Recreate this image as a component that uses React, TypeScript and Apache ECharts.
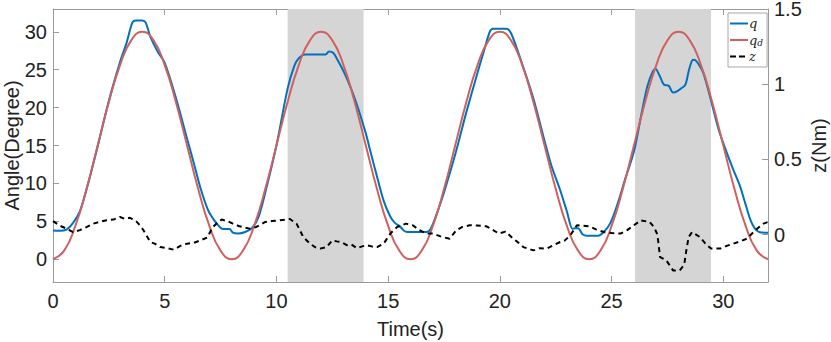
import React, { useEffect, useRef } from "react";
import * as echarts from "echarts";

// time ticks / axes
const xTicks = [0, 5, 10, 15, 20, 25, 30];
const angleTicks = [0, 5, 10, 15, 20, 25, 30];
const torqueTicks = [0, 0.5, 1, 1.5];

// shaded intervals (s)
const shaded: [number, number][] = [
  [10.5, 13.9],
  [26.05, 29.45],
];

// measured angle q (t, degree)
const qData: [number, number][] = [
  [0, 3.8], [0.3, 3.75], [0.6, 3.9], [0.9, 4.8], [1.2, 6.3], [1.5, 9.2], [2.0, 14.9], [2.5, 20.9],
  [3.0, 26.0], [3.3, 28.6], [3.55, 31.2], [3.7, 31.5], [4.0, 31.5], [4.15, 31.2], [4.35, 29.4],
  [4.7, 27.3], [5.0, 25.9], [5.5, 21.3], [6.0, 15.9], [6.3, 12.7], [6.6, 9.4], [6.95, 6.4],
  [7.2, 5.2], [7.45, 4.3], [7.6, 4.0], [7.9, 4.0], [8.05, 3.5], [8.3, 3.4], [8.6, 3.6], [8.9, 4.1],
  [9.2, 5.6], [9.5, 8.8], [10.0, 15.0], [10.5, 22.5], [10.8, 25.5], [11.0, 26.5], [11.3, 27.0],
  [12.2, 27.0], [12.35, 27.4], [12.55, 27.2], [12.75, 26.2], [13.0, 24.8], [13.3, 22.8],
  [13.6, 20.4], [14.0, 16.6], [14.2, 14.3], [14.5, 10.9], [14.8, 7.7], [15.1, 5.6], [15.3, 4.8],
  [15.5, 4.4], [15.7, 3.8], [15.85, 3.6], [16.7, 3.6], [16.9, 4.0], [17.2, 6.2], [17.5, 8.8],
  [18.0, 13.8], [18.5, 19.4], [19.0, 24.6], [19.3, 27.6], [19.55, 30.0], [19.7, 30.4],
  [20.3, 30.4], [20.5, 29.8], [20.9, 26.6], [21.5, 21.2], [22.0, 15.6], [22.3, 12.4],
  [22.7, 9.1], [23.0, 6.3], [23.25, 4.0], [23.35, 4.1], [23.5, 4.1], [23.7, 3.3], [23.9, 3.1],
  [24.4, 3.1], [24.65, 3.6], [24.95, 4.8], [25.3, 7.6], [25.6, 10.5], [26.0, 14.2], [26.3, 18.6],
  [26.6, 22.8], [26.85, 24.8], [26.97, 25.1], [27.15, 24.2], [27.35, 23.0], [27.55, 22.9],
  [27.75, 22.0], [27.9, 22.1], [28.1, 22.5], [28.3, 23.0], [28.45, 24.8], [28.6, 26.2],
  [28.7, 26.3], [28.9, 25.7], [29.1, 24.6], [29.4, 21.5], [29.8, 17.0], [30.15, 14.1],
  [30.45, 11.8], [30.75, 9.6], [31.0, 7.2], [31.2, 5.3], [31.4, 4.1], [31.6, 3.6], [32.0, 3.5],
];

// desired angle q_d, sampled every 0.5 s
const qdStep = 0.5;
const qdValues = [
  0, 1.14, 4.39, 9.26, 15, 20.74, 25.61, 28.86, 30, 28.86, 25.61, 20.74, 15, 9.26, 4.39, 1.14,
  0, 1.14, 4.39, 9.26, 15, 20.74, 25.61, 28.86, 30, 28.86, 25.61, 20.74, 15, 9.26, 4.39, 1.14,
  0, 1.14, 4.39, 9.26, 15, 20.74, 25.61, 28.86, 30, 28.86, 25.61, 20.74, 15, 9.26, 4.39, 1.14,
  0, 1.14, 4.39, 9.26, 15, 20.74, 25.61, 28.86, 30, 28.86, 25.61, 20.74, 15, 9.26, 4.39, 1.14,
  0,
];

// torque z (t, Nm)
const zData: [number, number][] = [
  [0, 0.09], [0.3, 0.06], [0.6, 0.04], [0.9, 0.017], [1.2, 0.03], [1.5, 0.05], [1.8, 0.073],
  [2.1, 0.085], [2.4, 0.095], [2.7, 0.1], [3.0, 0.117], [3.2, 0.105], [3.45, 0.112], [3.6, 0.098],
  [3.75, 0.085], [3.9, 0.06], [4.05, 0.029], [4.2, -0.01], [4.35, -0.049], [4.55, -0.06],
  [4.8, -0.083], [5.1, -0.09], [5.4, -0.1], [5.7, -0.075], [6.0, -0.06], [6.3, -0.055],
  [6.6, -0.038], [6.9, -0.02], [7.15, 0.05], [7.4, 0.085], [7.55, 0.1], [7.8, 0.09], [8.05, 0.073],
  [8.35, 0.055], [8.8, 0.04], [9.1, 0.051], [9.5, 0.084], [9.8, 0.09], [10.15, 0.095], [10.4, 0.1],
  [10.6, 0.104], [10.9, 0.073], [11.2, -0.016], [11.5, -0.06], [11.75, -0.085], [11.95, -0.093],
  [12.25, -0.083], [12.5, -0.038], [12.7, -0.045], [12.9, -0.05], [13.15, -0.07], [13.35, -0.065],
  [13.6, -0.09], [13.8, -0.08], [14.05, -0.07], [14.3, -0.08], [14.5, -0.083], [14.8, -0.06],
  [15.1, 0.007], [15.4, 0.051], [15.8, 0.073], [16.1, 0.062], [16.4, 0.03], [16.7, 0.007],
  [17.0, 0.007], [17.4, -0.015], [17.75, -0.027], [18.05, 0.029], [18.3, 0.05], [18.65, 0.062],
  [19.0, 0.06], [19.4, 0.055], [19.7, 0.03], [19.95, 0.007], [20.25, 0.02], [20.6, -0.027],
  [20.8, -0.05], [21.05, -0.083], [21.5, -0.105], [21.8, -0.09], [22.1, -0.093], [22.4, -0.07],
  [22.7, -0.049], [22.9, -0.04], [23.15, -0.005], [23.45, 0.062], [23.7, 0.06], [24.0, 0.055],
  [24.3, 0.035], [24.65, 0.017], [25.0, 0.01], [25.4, 0.007], [25.7, 0.03], [26.0, 0.062],
  [26.3, 0.095], [26.7, 0.084], [26.9, 0.05], [27.05, 0.0], [27.17, -0.149], [27.45, -0.171],
  [27.75, -0.238], [28.05, -0.238], [28.25, -0.2], [28.35, -0.1], [28.45, -0.016], [28.6, 0.017],
  [28.95, -0.016], [29.2, -0.06], [29.45, -0.093], [29.85, -0.093], [30.15, -0.075], [30.45, -0.06],
  [30.75, -0.045], [31.05, -0.027], [31.35, 0.017], [31.6, 0.05], [31.8, 0.073], [32.0, 0.084],
];

const AXIS = "#9a9a9a";
const TEXT = "#222";
const FONT = "'Liberation Sans', Arial, sans-serif";
const SOLID_ICON = "path://M0,0H18V2H0Z";
const DASH_ICON = "path://M0,0H6V2H0Z M9,0H15V2H9Z M18,0H18V2H18Z";

export default function App() {
  const ref = useRef<HTMLDivElement>(null);
  useEffect(() => {
    if (!ref.current) return;
    const chart = echarts.init(ref.current, undefined, { renderer: "svg" });
    const tickStyle = { show: true, inside: true, length: 6, lineStyle: { color: AXIS } };
    const labelStyle = { color: TEXT, fontSize: 20, lineHeight: 14, fontFamily: FONT };
    const lineAxis = { show: true, onZero: false, lineStyle: { color: AXIS } };
    const nameStyle = { color: TEXT, fontSize: 20, lineHeight: 16, fontFamily: FONT };
    chart.setOption({
      animation: false,
      backgroundColor: "#fff",
      grid: { left: 53, right: 63, top: 9, bottom: 60, containLabel: false, outerBoundsMode: "none" },
      legend: {
        orient: "vertical",
        left: 728,
        top: 13,
        padding: [4, 4, 4, 2],
        itemGap: 2.5,
        itemWidth: 18,
        itemHeight: 2,
        borderColor: "#a8a8a8",
        borderWidth: 1,
        backgroundColor: "#fff",
        data: [
          { name: "q", icon: SOLID_ICON },
          { name: "q_d", icon: SOLID_ICON },
          { name: "z", icon: DASH_ICON },
        ],
        formatter: (name: string) => (name === "q_d" ? "{i|q}{s|d}" : "{i|" + name + "}"),
        textStyle: {
          padding: [0, 0, 0, -4],
          rich: {
            i: { fontFamily: "'DejaVu Serif', serif", fontStyle: "italic", fontSize: 13, lineHeight: 15, color: TEXT },
            s: { fontFamily: "'DejaVu Serif', serif", fontStyle: "italic", fontSize: 9, lineHeight: 15, color: TEXT, padding: [6, 0, 0, 0] },
          },
        },
      },
      xAxis: [
        {
          type: "value",
          min: 0,
          max: 32,
          name: "Time(s)",
          nameLocation: "middle",
          nameGap: 39,
          nameMoveOverlap: false,
          nameTextStyle: nameStyle,
          axisLine: lineAxis,
          axisTick: { ...tickStyle, customValues: xTicks },
          axisLabel: { ...labelStyle, margin: 12, customValues: xTicks },
          splitLine: { show: false },
        },
        {
          type: "value",
          position: "top",
          min: 0,
          max: 32,
          axisLine: lineAxis,
          axisTick: { ...tickStyle, customValues: xTicks },
          axisLabel: { show: false },
          splitLine: { show: false },
        },
      ],
      yAxis: [
        {
          type: "value",
          min: -3,
          max: 33,
          name: "Angle(Degree)",
          nameLocation: "middle",
          nameRotate: 90,
          nameGap: 33,
          nameMoveOverlap: false,
          nameTextStyle: nameStyle,
          axisLine: lineAxis,
          axisTick: { ...tickStyle, customValues: angleTicks },
          axisLabel: { ...labelStyle, margin: 6, customValues: angleTicks },
          splitLine: { show: false },
        },
        {
          type: "value",
          position: "right",
          min: -0.315,
          max: 1.5,
          name: "z(Nm)",
          nameLocation: "middle",
          nameRotate: 90,
          nameGap: 43,
          nameMoveOverlap: false,
          nameTextStyle: nameStyle,
          axisLine: lineAxis,
          axisTick: { ...tickStyle, customValues: torqueTicks },
          axisLabel: { ...labelStyle, margin: 6, customValues: torqueTicks },
          splitLine: { show: false },
        },
      ],
      series: [
        {
          name: "shade",
          type: "line",
          data: [],
          z: 1,
          silent: true,
          markArea: {
            silent: true,
            itemStyle: { color: "#d5d5d5", opacity: 1 },
            data: shaded.map(([a, b]) => [{ xAxis: a }, { xAxis: b }]),
          },
        },
        {
          name: "q",
          type: "line",
          data: qData,
          symbol: "none",
          smooth: 0.3,
          z: 3,
          lineStyle: { color: "#0072bd", width: 2 },
          itemStyle: { color: "#0072bd" },
        },
        {
          name: "q_d",
          type: "line",
          data: qdValues.map((v, i) => [i * qdStep, v]),
          symbol: "none",
          smooth: true,
          z: 4,
          lineStyle: { color: "#d0605e", width: 2 },
          itemStyle: { color: "#d0605e" },
        },
        {
          name: "z",
          type: "line",
          yAxisIndex: 1,
          data: zData,
          symbol: "none",
          z: 5,
          lineStyle: { color: "#000", width: 2, type: [5, 4] },
          itemStyle: { color: "#000" },
        },
      ],
    });
    return () => chart.dispose();
  }, []);
  return (
    <div
      ref={ref}
      style={{ position: "fixed", left: 0, top: 0, width: 831, height: 342 }}
    />
  );
}
